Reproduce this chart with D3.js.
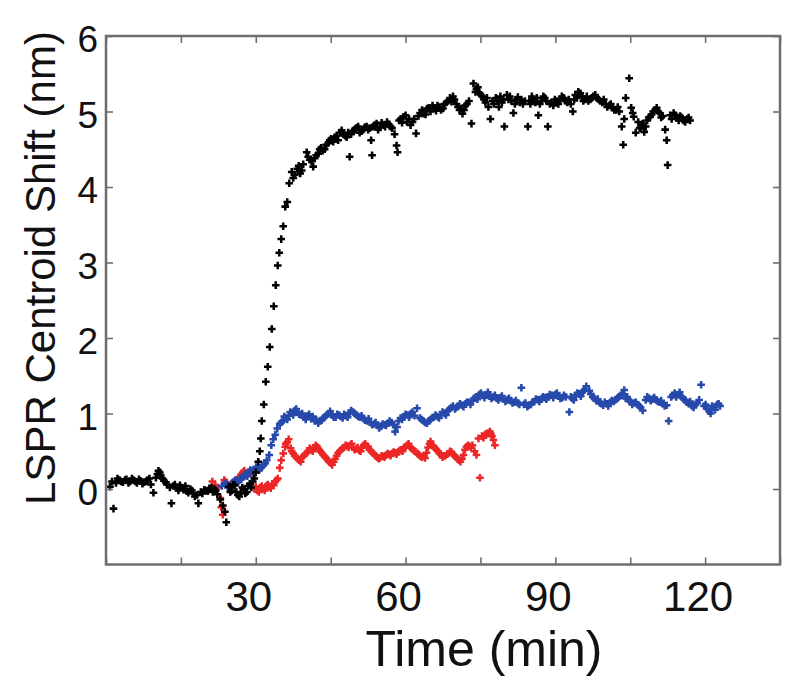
<!DOCTYPE html>
<html>
<head>
<meta charset="utf-8">
<script src="https://cdn.jsdelivr.net/npm/d3@7"></script>
<style>
  body { margin: 0; background: #fff; }
  text { font-family: "Liberation Sans", Arial, sans-serif; fill: #111; }
</style>
</head>
<body>
<script>
var width = 800;
var height = 691;

// [time (min), shift (nm)]
var blackPoints = [
  [0.8,0.03],[1.5,-0.26],[2.0,0.08],[2.7,0.12],[3.4,0.09],[4.1,0.13],[4.8,0.10],[5.5,0.12],
  [6.2,0.08],[6.9,0.11],[7.6,0.09],[8.3,0.12],[9.0,0.06],[9.5,-0.05],[10.0,0.15],[10.5,0.24],
  [11.0,0.18],[11.6,0.11],[12.2,0.06],[12.8,0.02],[13.1,-0.19],[13.5,0.04],[14.2,0.01],[14.8,0.05],
  [15.5,-0.01],[16.2,-0.03],[16.9,0.00],[17.5,-0.06],[18.2,-0.08],[18.5,-0.19],[19.0,-0.04],[19.7,-0.01],
  [20.4,-0.03],[21.1,0.02],[21.7,0.00],[22.3,-0.07],[22.9,-0.14],[23.4,-0.22],[23.8,-0.30],[24.1,-0.44],
  [24.6,0.03],[25.2,-0.02],[25.8,0.05],[26.4,-0.08],[27.0,-0.05],[27.6,0.00],[28.2,-0.04],[28.8,0.07],
  [29.4,0.10],[30.0,0.22],[30.5,0.36],[30.8,0.50],[31.0,0.67],[31.2,0.90],[31.6,1.12],[32.0,1.42],
  [32.4,1.62],[32.8,1.88],[33.2,2.12],[33.6,2.42],[34.0,2.70],[34.4,2.96],[34.7,3.13],[35.1,3.31],
  [35.5,3.48],[35.9,3.74],[36.3,3.80],[36.7,4.05],[37.2,4.20],[37.8,4.16],[38.3,4.24],[38.9,4.18],
  [39.5,4.30],[40.2,4.46],[40.8,4.36],[41.5,4.27],[42.1,4.42],[42.8,4.50],[43.4,4.48],[44.1,4.56],
  [44.8,4.62],[45.5,4.60],[46.2,4.68],[46.9,4.72],[47.5,4.70],[48.2,4.66],[48.8,4.40],[49.4,4.74],
  [50.1,4.78],[50.8,4.72],[51.5,4.76],[52.2,4.80],[52.8,4.78],[53.1,4.62],[53.3,4.42],[53.8,4.82],
  [54.5,4.76],[55.2,4.85],[55.9,4.80],[56.6,4.83],[57.3,4.78],[57.8,4.70],[58.2,4.55],[58.4,4.46],
  [59.0,4.90],[59.6,4.93],[60.3,4.86],[61.0,4.82],[61.7,4.90],[62.1,4.71],[62.6,4.94],[63.3,5.02],
  [64.0,4.96],[64.7,5.05],[65.4,5.08],[66.1,5.01],[66.8,5.06],[67.5,5.04],[68.2,5.12],[68.9,5.18],
  [69.5,5.20],[70.2,5.10],[70.8,5.02],[71.4,4.97],[72.0,5.08],[72.7,5.14],[73.2,4.84],[73.6,5.37],
  [74.2,5.30],[74.8,5.24],[75.4,5.20],[76.0,5.12],[76.6,5.06],[77.0,4.90],[77.4,5.14],[78.1,5.18],
  [78.7,5.06],[79.3,5.12],[79.8,4.80],[80.3,5.22],[80.9,5.20],[81.6,4.98],[82.2,5.16],[82.9,5.12],
  [83.5,5.10],[84.5,4.80],[84.8,5.14],[85.3,5.20],[86.0,5.12],[86.6,4.95],[87.2,5.14],[87.9,5.18],
  [88.5,4.80],[88.9,5.10],[89.6,5.08],[90.3,5.14],[91.0,5.16],[91.7,5.18],[92.4,5.12],[93.1,5.10],
  [93.5,5.00],[94.0,5.22],[94.6,5.26],[95.3,5.20],[96.0,5.16],[96.6,5.14],[97.3,5.18],[98.0,5.22],
  [98.7,5.16],[99.4,5.12],[100.1,5.10],[100.8,5.08],[101.5,5.05],[102.2,5.02],[102.8,5.00],[103.3,4.80],
  [103.6,4.56],[103.8,4.90],[104.1,5.18],[104.8,5.44],[105.2,5.05],[105.7,4.93],[106.1,4.72],[106.6,4.86],
  [107.2,4.80],[107.8,4.73],[108.4,4.88],[109.0,4.93],[109.6,5.00],[110.3,5.05],[110.9,4.98],[111.5,4.94],
  [112.0,4.76],[112.3,4.62],[112.5,4.29],[113.0,4.95],[113.7,4.98],[114.4,4.92],[115.0,4.94],[115.7,4.88],
  [116.4,4.90],[117.0,4.88],
  [1.2,0.10],[2.3,0.14],[3.0,0.10],[3.8,0.12],[4.5,0.08],[5.2,0.14],[5.9,0.10],[6.6,0.13],
  [7.3,0.07],[8.0,0.10],[8.7,0.14],[10.3,0.20],[10.8,0.22],[11.3,0.14],[12.0,0.09],[13.8,0.06],
  [14.5,-0.02],[15.2,0.02],[15.9,0.04],[16.5,-0.05],[17.2,-0.02],[17.8,-0.10],[19.3,-0.06],[20.0,-0.02],
  [20.7,0.01],[21.4,-0.04],[22.0,-0.02],[24.9,-0.04],[25.5,0.06],[26.1,-0.04],[26.7,-0.10],[27.3,0.02],
  [27.9,-0.06],[28.5,0.04],[29.1,0.02],[29.7,0.14],
  [37.5,4.12],[38.6,4.28],[39.2,4.22],[40.5,4.40],[41.2,4.34],[41.8,4.38],[42.5,4.44],[43.1,4.52],
  [43.8,4.50],[44.5,4.58],[45.1,4.64],[45.8,4.66],[46.5,4.62],[47.2,4.75],[47.9,4.68],[48.5,4.72],
  [49.1,4.70],[49.8,4.76],[50.5,4.80],[51.2,4.74],[51.8,4.79],[52.5,4.76],[53.5,4.80],[54.2,4.84],
  [54.9,4.79],[55.6,4.82],[56.3,4.86],[57.0,4.80],[58.7,4.88],[59.3,4.85],[60.0,4.95],[60.7,4.90],
  [61.4,4.86],[62.9,4.98],[63.6,4.97],[64.3,5.04],[65.0,5.00],[65.7,5.04],[66.4,5.08],[67.1,5.02],
  [67.8,5.10],[68.5,5.14],[69.2,5.13],[69.8,5.16],[70.5,5.06],[71.1,5.04],[71.7,5.02],[72.3,5.10],
  [74.0,5.26],[74.5,5.32],[75.1,5.22],[75.7,5.16],[76.3,5.18],[77.7,5.10],[78.4,5.14],[79.0,5.20],
  [79.6,5.16],[80.6,5.16],[81.2,5.14],[81.9,5.10],[82.5,5.19],[83.2,5.16],[83.9,5.14],[85.0,5.10],
  [85.6,5.16],[86.3,5.18],[86.9,5.10],[87.6,5.20],[88.2,5.14],[89.2,5.12],[89.9,5.16],[90.6,5.10],
  [91.3,5.20],[92.0,5.14],[92.7,5.16],[93.8,5.16],[94.3,5.18],[95.0,5.24],[95.6,5.14],[96.3,5.20],
  [97.0,5.16],[97.6,5.20],[98.3,5.18],[99.0,5.14],[99.7,5.16],[100.4,5.06],[101.1,5.10],[101.8,5.02],
  [102.5,5.06],[105.5,4.98],[106.9,4.78],[107.5,4.84],[108.1,4.80],[108.7,4.92],[109.3,4.96],[110.0,5.02],
  [110.6,5.00],[111.2,4.92],[113.3,4.90],[114.0,4.95],[114.7,4.88],[115.3,4.92],[116.0,4.86],[116.7,4.92]
];

var bluePoints = [
  [23.2,0.04],[23.8,0.08],[24.4,0.02],[25.0,0.06],[25.6,0.10],[26.2,0.08],[26.8,0.14],[27.4,0.16],
  [28.0,0.20],[28.6,0.22],[29.2,0.24],[29.8,0.26],[30.4,0.27],[31.0,0.28],[31.6,0.32],[32.2,0.38],
  [32.7,0.45],[33.1,0.58],[33.5,0.66],[33.9,0.72],[34.3,0.80],[34.8,0.86],[35.4,0.90],[36.0,0.94],
  [36.6,0.97],[37.2,1.00],[37.8,1.04],[38.4,1.02],[39.0,0.98],[39.7,0.95],[40.4,0.97],[41.1,0.93],
  [41.8,0.90],[42.5,0.87],[43.2,0.91],[43.9,0.96],[44.6,1.00],[45.3,0.98],[46.0,0.95],[46.7,0.98],
  [47.4,0.94],[48.1,0.97],[48.8,1.01],[49.5,1.02],[50.2,0.98],[50.9,0.95],[51.6,0.93],[52.3,0.90],
  [53.0,0.88],[53.7,0.86],[54.4,0.84],[55.1,0.83],[55.8,0.85],[56.5,0.87],[57.2,0.88],[57.9,0.76],
  [58.3,0.82],[59.0,0.94],[59.7,0.96],[60.4,0.98],[61.1,1.00],[61.8,0.97],[62.3,1.07],[62.9,0.94],
  [63.6,0.90],[64.3,0.87],[65.0,0.92],[65.7,0.95],[66.4,0.96],[67.1,0.98],[67.8,1.00],[68.5,1.04],
  [69.2,1.08],[69.9,1.06],[70.6,1.10],[71.3,1.11],[72.0,1.13],[72.7,1.15],[73.4,1.17],[74.1,1.22],
  [74.8,1.25],[75.5,1.24],[76.2,1.25],[76.9,1.23],[77.6,1.22],[78.3,1.20],[79.0,1.21],[79.7,1.19],
  [80.4,1.18],[81.1,1.17],[81.8,1.15],[82.5,1.14],[83.2,1.34],[83.7,1.12],[84.4,1.09],[85.1,1.12],
  [85.8,1.16],[86.5,1.18],[87.2,1.19],[87.9,1.21],[88.6,1.22],[89.3,1.24],[90.0,1.25],[90.7,1.23],
  [91.4,1.21],[92.1,1.22],[92.8,1.02],[93.4,1.20],[94.1,1.24],[94.8,1.26],[95.5,1.29],[96.2,1.36],
  [96.8,1.30],[97.5,1.22],[98.2,1.17],[98.9,1.14],[99.6,1.11],[100.3,1.13],[101.0,1.15],[101.7,1.16],
  [102.4,1.20],[103.1,1.24],[103.8,1.31],[104.4,1.22],[105.0,1.16],[105.7,1.14],[106.4,1.12],[107.1,1.08],
  [107.5,1.04],[108.1,1.18],[108.8,1.20],[109.5,1.19],[110.2,1.18],[110.9,1.15],[111.6,1.13],[112.3,1.11],
  [112.7,0.90],[113.2,1.22],[113.9,1.27],[114.6,1.25],[115.3,1.22],[116.0,1.18],[116.7,1.13],[117.4,1.10],
  [118.1,1.12],[118.8,1.18],[119.2,1.38],[119.8,1.10],[120.5,1.06],[121.1,1.00],[121.7,1.08],[122.4,1.12],
  [123.0,1.10],
  [24.1,0.06],[24.7,0.04],[25.3,0.08],[25.9,0.12],[26.5,0.10],[27.1,0.13],[27.7,0.18],[28.3,0.17],
  [28.9,0.25],[29.5,0.22],[30.1,0.29],[30.7,0.25],[31.3,0.30],[31.9,0.34],[35.1,0.88],[35.7,0.96],
  [36.3,0.92],[36.9,1.02],[37.5,0.98],[38.1,1.06],[38.7,0.99],[39.3,1.00],[40.0,0.92],[40.7,0.99],
  [41.4,0.96],[42.1,0.92],[42.8,0.90],[43.5,0.94],[44.2,0.98],[44.9,1.03],[45.6,0.95],[46.3,0.99],
  [47.0,0.96],[47.7,0.99],[48.4,0.95],[49.1,1.04],[49.8,1.00],[50.5,0.96],[51.2,0.97],[51.9,0.91],
  [52.6,0.93],[53.3,0.85],[54.0,0.88],[54.7,0.81],[55.4,0.86],[56.1,0.84],[56.8,0.90],[57.5,0.85],
  [58.6,0.90],[59.3,0.92],[60.0,0.99],[60.7,0.95],[61.4,1.02],[63.2,0.92],[63.9,0.88],[64.6,0.90],
  [65.3,0.94],[66.0,0.98],[66.7,0.94],[67.4,1.02],[68.1,0.98],[68.8,1.06],[69.5,1.10],[70.2,1.08],
  [70.9,1.13],[71.6,1.09],[72.3,1.15],[73.0,1.12],[73.7,1.20],[74.4,1.19],[75.1,1.27],[75.8,1.21],
  [76.5,1.28],[77.2,1.20],[77.9,1.24],[78.6,1.18],[79.3,1.23],[80.0,1.16],[80.7,1.20],[81.4,1.14],
  [82.1,1.17],[82.8,1.12],[84.0,1.14],[84.7,1.11],[85.4,1.15],[86.1,1.19],[86.8,1.16],[87.5,1.22],
  [88.2,1.19],[88.9,1.25],[89.6,1.21],[90.3,1.27],[91.0,1.20],[91.7,1.24],[93.1,1.22],[93.7,1.18],
  [94.4,1.27],[95.1,1.23],[95.8,1.31],[97.1,1.26],[97.8,1.20],[98.5,1.19],[99.2,1.13],[99.9,1.15],
  [100.6,1.10],[101.3,1.17],[102.0,1.18],[102.7,1.22],[103.4,1.26],[104.1,1.20],[104.7,1.18],[105.4,1.12],
  [106.1,1.15],[106.8,1.10],[108.4,1.22],[109.1,1.17],[109.8,1.21],[110.5,1.16],[111.2,1.17],[111.9,1.10],
  [113.5,1.24],[114.2,1.22],[114.9,1.28],[115.6,1.20],[116.3,1.15],[117.0,1.16],[117.7,1.08],[118.4,1.14],
  [120.1,1.12],[120.8,1.03],[121.4,1.10],[122.0,1.05],[122.7,1.13]
];

var redPoints = [
  [21.3,0.10],[21.9,0.05],[22.4,0.02],[22.9,-0.12],[23.1,-0.24],[23.4,-0.34],[23.7,0.12],[24.3,0.06],
  [25.0,0.02],[25.6,0.08],[26.2,0.12],[26.8,0.16],[27.4,0.22],[28.0,0.18],[28.6,0.22],[29.2,0.20],
  [29.7,0.00],[30.3,-0.02],[30.9,0.02],[31.5,0.00],[32.1,0.04],[32.7,0.03],[33.3,0.07],[33.9,0.10],
  [34.4,0.14],[34.8,0.28],[35.1,0.38],[35.5,0.47],[35.9,0.56],[36.3,0.62],[36.6,0.66],[37.0,0.54],
  [37.5,0.47],[38.1,0.42],[38.7,0.38],[39.3,0.42],[39.9,0.46],[40.5,0.50],[41.1,0.52],[41.7,0.55],
  [42.3,0.56],[42.9,0.50],[43.5,0.45],[44.1,0.41],[44.7,0.36],[45.3,0.32],[45.9,0.40],[46.5,0.48],
  [47.1,0.52],[47.7,0.55],[48.3,0.57],[48.9,0.58],[49.5,0.55],[50.1,0.53],[50.7,0.51],[51.3,0.55],
  [51.9,0.60],[52.5,0.56],[53.1,0.50],[53.7,0.46],[54.3,0.42],[54.9,0.41],[55.5,0.43],[56.1,0.45],
  [56.7,0.46],[57.3,0.47],[57.9,0.48],[58.5,0.49],[59.1,0.52],[59.7,0.55],[60.3,0.58],[60.9,0.56],
  [61.5,0.52],[62.1,0.49],[62.7,0.45],[63.3,0.42],[63.9,0.41],[64.5,0.55],[65.0,0.63],[65.6,0.57],
  [66.2,0.52],[66.8,0.47],[67.4,0.42],[68.0,0.44],[68.6,0.47],[69.2,0.49],[69.8,0.44],[70.4,0.40],
  [71.0,0.36],[71.6,0.45],[72.2,0.56],[72.8,0.57],[73.4,0.58],[73.8,0.50],[74.2,0.45],[74.6,0.67],
  [74.9,0.15],[75.3,0.70],[75.9,0.72],[76.5,0.74],[76.9,0.76],[77.3,0.70],[77.6,0.65],[77.9,0.58],
  [24.0,0.09],[24.6,0.03],[25.3,0.06],[25.9,0.10],[26.5,0.14],[27.1,0.20],[27.7,0.24],[28.3,0.20],
  [28.9,0.24],[30.0,0.03],[30.6,-0.04],[31.2,0.04],[31.8,-0.02],[32.4,0.06],[33.0,0.01],[33.6,0.05],
  [34.2,0.12],[36.0,0.60],[37.2,0.50],[37.8,0.44],[38.4,0.40],[39.0,0.36],[39.6,0.44],[40.2,0.48],
  [40.8,0.54],[41.4,0.50],[42.0,0.58],[42.6,0.53],[43.2,0.48],[43.8,0.43],[44.4,0.38],[45.0,0.34],
  [45.6,0.36],[46.2,0.44],[46.8,0.50],[47.4,0.54],[48.0,0.58],[48.6,0.55],[49.2,0.60],[49.8,0.52],
  [50.4,0.55],[51.0,0.50],[51.6,0.58],[52.2,0.57],[52.8,0.52],[53.4,0.48],[54.0,0.44],[54.6,0.40],
  [55.2,0.44],[55.8,0.42],[56.4,0.47],[57.0,0.44],[57.6,0.49],[58.2,0.46],[58.8,0.51],[59.4,0.50],
  [60.0,0.56],[60.6,0.60],[61.2,0.54],[61.8,0.50],[62.4,0.47],[63.0,0.43],[63.6,0.44],[64.2,0.48],
  [64.8,0.60],[65.3,0.58],[65.9,0.54],[66.5,0.50],[67.1,0.45],[67.7,0.44],[68.3,0.46],[68.9,0.50],
  [69.5,0.46],[70.1,0.42],[70.7,0.38],[71.3,0.40],[71.9,0.52],[72.5,0.58],[73.1,0.55],[75.6,0.68],
  [76.2,0.73],[77.1,0.73]
];

var xTicks = [0, 15, 30, 45, 60, 75, 90, 105, 120, 135];
var xTickLabels = [30, 60, 90, 120];
var yTicks = [0, 1, 2, 3, 4, 5, 6];

var margin = {top: 36, left: 106, right: 20, bottom: 126.5};

var svg = d3.select("body")
  .append("svg")
  .attr("width", width)
  .attr("height", height);

var x = d3.scaleLinear()
  .domain([0, 135])
  .range([margin.left, width - margin.right]);

var y = d3.scaleLinear()
  .domain([-1, 6])
  .range([height - margin.bottom, margin.top]);

var tickLen = 7;
var axisColor = "#6e6e6e";

// points, drawn first so the frame sits on top
function drawSeries(points, color) {
  svg.append("g")
    .selectAll("path")
    .data(points)
    .enter()
    .append("path")
      .attr("d", d3.symbol().type(d3.symbolCross).size(32))
      .attr("transform", function(d) {
        return "translate(" + x(d[0]) + "," + y(d[1]) + ")";
      })
      .attr("fill", color);
}

drawSeries(redPoints, "#ec2626");
drawSeries(bluePoints, "#2649aa");
drawSeries(blackPoints, "#000");

// ticks on all four sides, pointing in
var bottomAxis = d3.axisBottom(x).tickValues(xTicks).tickSizeInner(-tickLen).tickSizeOuter(0).tickFormat("");
var topAxis = d3.axisTop(x).tickValues(xTicks).tickSizeInner(-tickLen).tickSizeOuter(0).tickFormat("");
var leftAxis = d3.axisLeft(y).tickValues(yTicks).tickSizeInner(-tickLen).tickSizeOuter(0).tickFormat("");
var rightAxis = d3.axisRight(y).tickValues(yTicks).tickSizeInner(-tickLen).tickSizeOuter(0).tickFormat("");

svg.append("g").attr("transform", "translate(0," + y(-1) + ")").call(bottomAxis);
svg.append("g").attr("transform", "translate(0," + y(6) + ")").call(topAxis);
svg.append("g").attr("transform", "translate(" + x(0) + ",0)").call(leftAxis);
svg.append("g").attr("transform", "translate(" + x(135) + ",0)").call(rightAxis);

svg.selectAll(".domain").remove();
svg.selectAll(".tick line")
  .attr("stroke", axisColor)
  .attr("stroke-width", 1.6);

svg.append("rect")
  .attr("x", x(0))
  .attr("y", y(6))
  .attr("width", x(135) - x(0))
  .attr("height", y(-1) - y(6))
  .attr("fill", "none")
  .attr("stroke", axisColor)
  .attr("stroke-width", 2.5);

// tick labels
svg.append("g")
  .selectAll("text")
  .data(xTickLabels)
  .enter()
  .append("text")
    .attr("x", function(d) { return x(d) - 7; })
    .attr("y", 611)
    .attr("text-anchor", "middle")
    .attr("font-size", 42)
    .text(function(d) { return d; });

svg.append("g")
  .selectAll("text")
  .data(yTicks)
  .enter()
  .append("text")
    .attr("x", 98)
    .attr("y", function(d) { return y(d) + 16; })
    .attr("text-anchor", "end")
    .attr("font-size", 37)
    .text(function(d) { return d; });

// axis titles
svg.append("text")
  .attr("x", 484)
  .attr("y", 666)
  .attr("text-anchor", "middle")
  .attr("font-size", 50)
  .text("Time (min)");

svg.append("text")
  .attr("transform", "translate(55," + 268 + ") rotate(-90)")
  .attr("text-anchor", "middle")
  .attr("font-size", 42)
  .text("LSPR Centroid Shift (nm)");
</script>
</body>
</html>
